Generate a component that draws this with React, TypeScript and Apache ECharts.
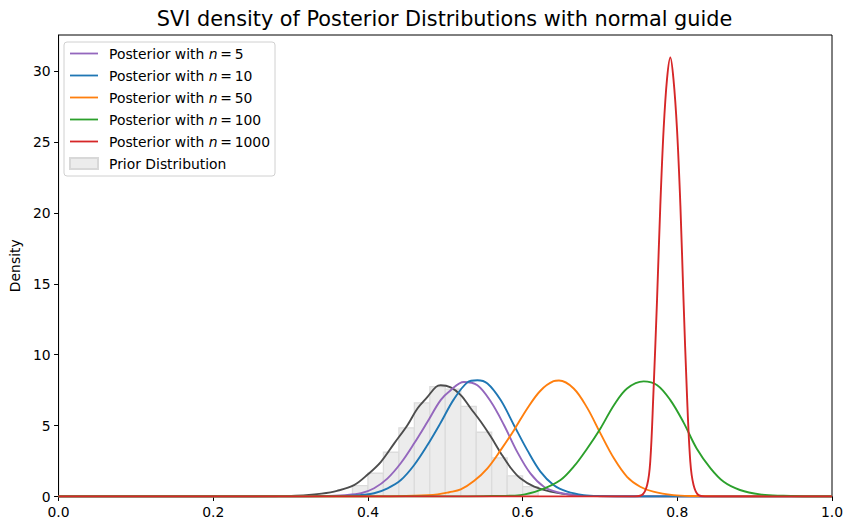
import React, { useEffect, useRef } from 'react';
import * as echarts from 'echarts';

// ---------- data ----------
const TITLE = 'SVI density of Posterior Distributions with normal guide';
const SAMPLE_SIZES = [5, 10, 50, 100, 1000];
const CURVE_COLORS = ['#9467bd', '#1f77b4', '#ff7f0e', '#2ca02c', '#d62728'];

const X_TICKS = [0, 0.2, 0.4, 0.6, 0.8, 1.0];
const Y_TICKS = [0, 5, 10, 15, 20, 25, 30];

// posterior n = 5
const post5: number[][] = [
  [0, 0], [0.3, 0], [0.34, 0.03], [0.37, 0.1], [0.391, 0.23], [0.408, 0.58], [0.4254, 1.28],
  [0.4426, 2.36], [0.4598, 3.75], [0.477, 5.27], [0.494, 6.8], [0.507, 7.5], [0.524, 8.08],
  [0.5415, 7.85], [0.559, 6.68], [0.576, 5.03], [0.593, 3.15], [0.61, 1.63], [0.6275, 0.69],
  [0.645, 0.3], [0.666, 0.1], [0.69, 0.03], [0.72, 0], [1, 0],
];
// posterior n = 10
const post10: number[][] = [
  [0, 0], [0.32, 0], [0.36, 0.03], [0.39, 0.1], [0.408, 0.23], [0.4254, 0.58], [0.4426, 1.16],
  [0.4598, 2.22], [0.477, 3.63], [0.494, 5.2], [0.511, 6.85], [0.5286, 8.05], [0.5415, 8.2],
  [0.5545, 7.97], [0.5716, 6.8], [0.5888, 5.03], [0.606, 3.27], [0.623, 1.75], [0.64, 0.81],
  [0.6577, 0.34], [0.679, 0.1], [0.7, 0.03], [0.74, 0], [1, 0],
];
// posterior n = 50
const post50: number[][] = [
  [0, 0], [0.42, 0], [0.46, 0.05], [0.49, 0.15], [0.505, 0.3], [0.52, 0.5], [0.537, 1.09],
  [0.5545, 1.99], [0.5716, 3.27], [0.5888, 4.68], [0.606, 6.21], [0.623, 7.46], [0.64, 8.13],
  [0.647, 8.18], [0.666, 7.62], [0.6835, 6.25], [0.7006, 4.45], [0.718, 2.69], [0.735, 1.39],
  [0.752, 0.69], [0.769, 0.34], [0.795, 0.1], [0.82, 0.03], [0.86, 0], [1, 0],
];
// posterior n = 100
const post100: number[][] = [
  [0, 0], [0.52, 0], [0.56, 0.03], [0.597, 0.1], [0.623, 0.46], [0.649, 1.16], [0.666, 2.1],
  [0.6835, 3.39], [0.7006, 4.8], [0.718, 6.44], [0.735, 7.62], [0.7565, 8.12], [0.774, 7.85],
  [0.791, 6.8], [0.808, 5.23], [0.825, 3.39], [0.843, 1.99], [0.86, 1.04], [0.881, 0.46],
  [0.907, 0.15], [0.937, 0.05], [0.97, 0], [1, 0],
];
// posterior n = 1000
const post1000: number[][] = [
  [0, 0], [0.74, 0], [0.754, 0.1], [0.761, 0.81], [0.765, 2.45], [0.769, 7.15], [0.7738, 13.9],
  [0.778, 20.5], [0.7823, 25.9], [0.7867, 29.45], [0.791, 30.96], [0.795, 29.45], [0.7996, 25.9],
  [0.804, 20.5], [0.808, 13.9], [0.8125, 7.15], [0.8168, 2.45], [0.821, 0.81], [0.8275, 0.1],
  [0.84, 0], [1, 0],
];
const POSTERIORS = [post5, post10, post50, post100, post1000];

// prior: histogram + density line
const PRIOR_BIN_EDGES = [0.38, 0.4, 0.42, 0.44, 0.46, 0.48, 0.5, 0.52, 0.54, 0.56, 0.58, 0.6, 0.62];
const PRIOR_DENSITY = [0.77, 1.64, 3.12, 4.84, 6.6, 7.75, 7.58, 6.36, 4.53, 2.72, 1.46, 0.7];
const priorKde: number[][] = [
  [0, 0], [0.25, 0], [0.28, 0.02], [0.3, 0.04], [0.32, 0.09], [0.34, 0.2], [0.36, 0.4],
  [0.382, 0.8], [0.3996, 1.55], [0.4168, 2.45], [0.434, 3.75], [0.451, 5.03], [0.464, 6.21],
  [0.477, 7.03], [0.488, 7.73], [0.494, 7.85], [0.507, 7.7], [0.52, 7.15], [0.533, 6.21],
  [0.546, 5.27], [0.559, 4.21], [0.572, 3.04], [0.585, 1.99], [0.597, 1.28], [0.615, 0.69],
  [0.636, 0.34], [0.666, 0.1], [0.7, 0.02], [0.75, 0], [1, 0],
];

const FONT = 'DejaVu Sans';
const FS = 13.9;

export default function App() {
  const ref = useRef<HTMLDivElement>(null);
  useEffect(() => {
    if (!ref.current) return;
    const chart = echarts.init(ref.current, undefined, { renderer: 'svg' });
    const names = SAMPLE_SIZES.map((n) => `Posterior with n = ${n}`);
    const histData = PRIOR_DENSITY.map((d, i) => [PRIOR_BIN_EDGES[i], PRIOR_BIN_EDGES[i + 1], d]);

    const option: any = {
      animation: false,
      backgroundColor: '#fff',
      textStyle: { fontFamily: FONT },
      title: {
        text: TITLE,
        left: 444.5,
        top: 8,
        textAlign: 'center',
        padding: 0,
        textStyle: { fontFamily: FONT, fontSize: 20.8, fontWeight: 'normal', color: '#000' },
      },
      grid: {
        left: 57,
        right: 21,
        top: 35,
        bottom: 33.5,
        show: true,
        borderColor: '#000',
        borderWidth: 1,
        backgroundColor: 'transparent',
      },
      legend: {
        orient: 'vertical',
        left: 64,
        top: 42,
        itemWidth: 28,
        itemHeight: 11,
        itemGap: 7,
        padding: [4, 5, 5, 5],
        borderColor: '#d0d0d0',
        borderWidth: 1,
        borderRadius: 3,
        backgroundColor: 'rgba(255,255,255,0.8)',
        data: [
          ...names.map((n) => ({ name: n, icon: 'path://M0,0 M0,4.6 H28 V6.4 H0 Z M28,11' })),
          { name: 'Prior Distribution', icon: 'rect' },
        ],
        formatter: (name: string) => {
          const m = name.match(/^Posterior with n = (\d+)$/);
          if (m) return `Posterior with {i|n}\u2009=\u2009${m[1]}`;
          return name;
        },
        textStyle: {
          fontFamily: FONT,
          fontSize: FS,
          color: '#000',
          lineHeight: 15,
          padding: [0, 0, 0, 6],
          rich: {
            i: { fontFamily: FONT, fontSize: FS, fontStyle: 'italic', color: '#000', lineHeight: 15 },
          },
        },
      },
      xAxis: {
        type: 'value',
        min: X_TICKS[0],
        max: X_TICKS[X_TICKS.length - 1],
        interval: 0.2,
        splitLine: { show: false },
        axisLine: { show: true, onZero: false, lineStyle: { color: '#000', width: 1 } },
        axisTick: { show: true, length: 4.5, lineStyle: { color: '#000' } },
        axisLabel: {
          color: '#000',
          fontFamily: FONT,
          fontSize: FS,
          margin: 8,
          formatter: (v: number) => v.toFixed(1),
        },
      },
      yAxis: {
        type: 'value',
        min: 0,
        max: 32.55,
        name: 'Density',
        nameLocation: 'middle',
        nameGap: 33,
        nameTextStyle: { color: '#000', fontFamily: FONT, fontSize: FS },
        splitLine: { show: false },
        axisLine: { show: true, onZero: false, lineStyle: { color: '#000', width: 1 } },
        axisTick: { show: true, length: 4.5, lineStyle: { color: '#000' }, customValues: Y_TICKS },
        axisLabel: {
          color: '#000',
          fontFamily: FONT,
          fontSize: FS,
          margin: 8,
          customValues: Y_TICKS,
        },
      },
      series: [
        {
          name: 'Prior Distribution',
          type: 'custom',
          z: 1,
          clip: true,
          itemStyle: { color: '#ececec', borderColor: '#d8d8d8', borderWidth: 1 },
          encode: { x: [0, 1], y: 2 },
          data: histData,
          renderItem: (_params: any, api: any) => {
            const p0 = api.coord([api.value(0), api.value(2)]);
            const p1 = api.coord([api.value(1), 0]);
            return {
              type: 'rect',
              shape: { x: p0[0], y: p0[1], width: p1[0] - p0[0], height: p1[1] - p0[1] },
              style: { fill: '#ececec', stroke: '#dcdcdc', lineWidth: 1.3 },
            };
          },
        },
        {
          name: 'Prior density',
          type: 'line',
          z: 2,
          data: priorKde,
          symbol: 'none',
          smooth: 0.35,
          lineStyle: { color: '#4d4d4d', width: 1.9 },
          itemStyle: { color: '#4d4d4d' },
        },
        ...POSTERIORS.map((d, i) => ({
          name: names[i],
          type: 'line',
          z: 3 + i,
          data: d,
          symbol: 'none',
          smooth: 0.35,
          lineStyle: { color: CURVE_COLORS[i], width: 1.9 },
          itemStyle: { color: CURVE_COLORS[i] },
        })),
      ],
    };
    chart.setOption(option);
    return () => chart.dispose();
  }, []);

  return (
    <div
      ref={ref}
      style={{ position: 'fixed', left: 0, top: 0, width: 853, height: 530, background: '#fff' }}
    />
  );
}
